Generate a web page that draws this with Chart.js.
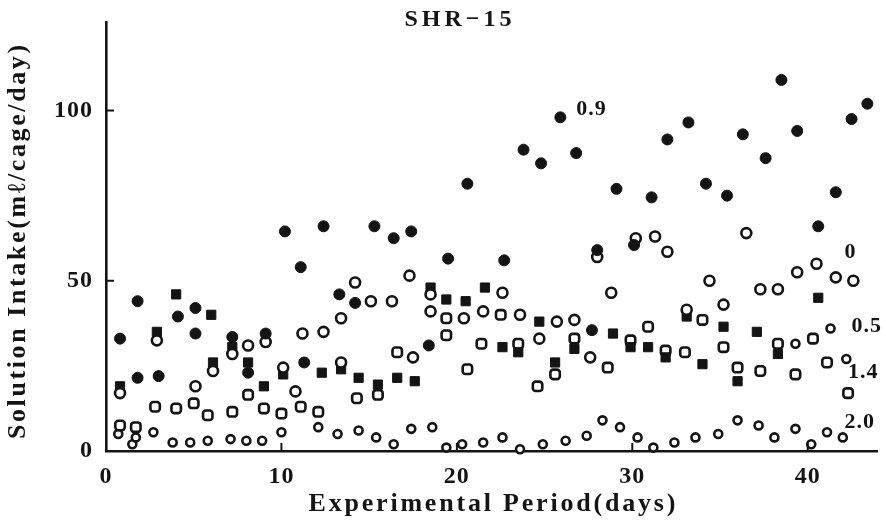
<!DOCTYPE html>
<html>
<head>
<meta charset="utf-8">
<script src="https://cdn.jsdelivr.net/npm/chart.js@4.4.1/dist/chart.umd.min.js"></script>
<style>
  html, body { margin: 0; padding: 0; background: #fff; }
</style>
</head>
<body>
<canvas id="intakeChart" width="886" height="525"></canvas>
<script>
// SHR-15 : solution intake per cage

const seriesNames = ['0.9', '0', '0.5', '1.4', '2.0'];
const dayTicks = [0, 10, 20, 30, 40];
const intakeTicks = [0, 50, 100];

// 0.9 (filled circles)
const days09 = [0.8, 1.8, 1.8, 3.0, 4.1, 5.1, 5.1, 7.2, 8.1, 9.1, 10.2, 11.1, 11.3, 12.4, 13.3, 14.2,
  15.3, 16.4, 17.4, 18.4, 19.5, 20.6, 22.7, 23.8, 24.8, 25.9, 26.8, 27.7, 28.0, 29.1, 30.1, 31.1,
  32.0, 33.2, 34.2, 35.4, 36.3, 37.6, 38.5, 39.4, 40.6, 41.6, 42.5, 43.4];
const intake09 = [33, 44, 21.5, 22, 39.5, 42, 34.5, 33.5, 23, 34.5, 64.5, 54, 26, 66, 46, 43.5,
  66, 62.5, 64.5, 31, 56.5, 78.5, 56, 88.5, 84.5, 98, 87.5, 35.5, 59, 77, 60.5, 74.5,
  91.5, 96.5, 78.5, 75, 93, 86, 109, 94, 66, 76, 97.5, 102];

// 0 (open circles)
const days0 = [0.8, 2.9, 5.1, 6.1, 7.2, 8.1, 9.1, 10.1, 10.8, 11.2, 12.4, 13.4, 13.4, 14.2, 15.1, 16.3,
  17.3, 17.5, 18.5, 18.5, 20.4, 21.5, 22.6, 23.6, 24.7, 25.7, 26.7, 27.6, 28.0, 28.8, 30.2, 31.3,
  32.0, 33.1, 34.4, 35.2, 36.5, 37.3, 38.3, 39.4, 40.5, 41.6, 42.6];
const intake0 = [17, 32.5, 19, 23.5, 28.5, 31, 32, 24.5, 17.5, 34.5, 35, 26, 39, 49.5, 44, 44,
  51.5, 27.5, 46, 41, 39, 41, 46.5, 40, 33, 38, 38.5, 27.5, 57, 46.5, 62.5, 63,
  58.5, 41.5, 50, 43, 64, 47.5, 47.5, 52.5, 55, 51, 50];

// 0.5 (filled squares)
const days05 = [0.8, 2.9, 4.0, 6.0, 6.1, 7.2, 8.1, 9.0, 10.1, 12.3, 13.4, 14.4, 15.5, 16.6, 17.6, 18.5,
  19.4, 20.5, 21.6, 22.6, 23.5, 24.7, 25.6, 26.7, 28.9, 29.9, 30.9, 31.9, 33.1, 34.0, 35.2, 36.0,
  37.1, 38.3, 40.6];
const intake05 = [19, 35, 46, 40, 26, 30.5, 26, 19, 22.5, 23, 24, 21.5, 19.5, 21.5, 20.5, 48,
  44.5, 44, 48, 30.5, 29, 38, 26, 30, 34.5, 30.5, 30.5, 27.5, 39.5, 25.5, 36.5, 20.5,
  35, 28.5, 45];

// 1.4 (open squares)
const days14 = [0.8, 1.7, 2.8, 4.0, 5.0, 5.8, 7.2, 8.1, 9.0, 10.0, 11.1, 12.1, 14.3, 15.5, 16.6, 19.4,
  19.4, 20.6, 21.4, 22.5, 23.5, 24.6, 25.6, 26.7, 28.6, 29.9, 30.9, 31.9, 33.0, 34.0, 35.2, 36.0,
  37.3, 38.3, 39.3, 40.3, 41.1, 42.3];
const intake14 = [7.5, 7, 13, 12.5, 14, 10.5, 11.5, 16.5, 12.5, 11, 13, 11.5, 15.5, 16.5, 29, 34,
  39, 24, 31.5, 40, 31.5, 19, 22.5, 33, 24.5, 32.5, 36.5, 29.5, 29, 38.5, 30.5, 24.5,
  23.5, 31.5, 22.5, 33, 26, 17];

// 2.0 (small open circles)
const days20 = [0.7, 1.5, 1.7, 2.7, 3.8, 4.8, 5.8, 7.1, 8.0, 8.9, 10.0, 12.1, 13.2, 14.4, 15.4, 16.4,
  17.4, 18.6, 19.4, 20.3, 21.5, 22.6, 23.6, 24.9, 26.2, 27.4, 28.3, 29.3, 30.3, 31.2, 32.4, 33.6,
  34.9, 36.0, 37.2, 38.1, 39.3, 40.2, 41.1, 42.0, 39.3, 41.3, 42.2];
const intake20 = [5, 2, 4, 5.5, 2.5, 2.5, 3, 3.5, 3, 3, 5.5, 7, 5, 6, 4, 2,
  6.5, 7, 1, 2, 2.5, 4, 0.5, 2, 3, 4.5, 9, 7, 4, 1, 2.5, 4,
  5, 9, 7.5, 4, 6.5, 2, 5.5, 4, 31.5, 36, 27];

// where the series names are printed, in axis units
const labelDays = [26.8, 42.1, 42.5, 42.3, 42.1];
const labelIntake = [100.4, 58.4, 36.7, 23, 8.5];

const ink = '#141414';
const serif = '"Liberation Serif", "DejaVu Serif", serif';

function pts(xs, ys) {
  return xs.map((d, i) => ({ x: d, y: ys[i] }));
}

// spaced-out serif lettering like the printed figure
function spaced(ctx, text, px, py, spacing, angle) {
  ctx.save();
  ctx.translate(px, py);
  ctx.rotate(angle || 0);
  ctx.letterSpacing = spacing + 'px';
  const w = ctx.measureText(text).width - spacing;
  ctx.textAlign = 'left';
  ctx.fillText(text, -w / 2, 0);
  ctx.restore();
}

const paperMarks = {
  id: 'paperMarks',
  beforeDraw(chart) {
    chart.ctx.letterSpacing = '1px';
  },
  afterDraw(chart) {
    const { ctx, scales: { x, y } } = chart;
    ctx.save();
    // short inward tick marks
    ctx.strokeStyle = ink;
    ctx.lineWidth = 2;
    dayTicks.slice(1).forEach(v => {
      const px = x.getPixelForValue(v);
      ctx.beginPath();
      ctx.moveTo(px, y.bottom);
      ctx.lineTo(px, y.bottom - 8);
      ctx.stroke();
    });
    intakeTicks.slice(1).forEach(v => {
      const py = y.getPixelForValue(v);
      ctx.beginPath();
      ctx.moveTo(x.left, py);
      ctx.lineTo(x.left + 8, py);
      ctx.stroke();
    });

    ctx.fillStyle = ink;
    ctx.textBaseline = 'middle';
    ctx.font = 'bold 24px ' + serif;
    spaced(ctx, 'SHR\u221215', 458, 20, 4);
    ctx.font = 'bold 26px ' + serif;
    spaced(ctx, 'Experimental Period(days)', (x.left + x.right) / 2, 504, 2.8);
    spaced(ctx, 'Solution Intake(m\u2113/cage/day)', 18, 242, 2.6, -Math.PI / 2);

    ctx.font = 'bold 22px ' + serif;
    ctx.letterSpacing = '1px';
    ctx.textAlign = 'left';
    seriesNames.forEach((name, i) => {
      ctx.fillText(name, x.getPixelForValue(labelDays[i]), y.getPixelForValue(labelIntake[i]));
    });
    ctx.restore();
  }
};

const tickFont = { family: serif, size: 24, weight: 'bold' };

new Chart(document.getElementById('intakeChart'), {
  type: 'scatter',
  data: {
    datasets: [
      { label: seriesNames[0], data: pts(days09, intake09), pointStyle: 'circle', radius: 5.5,
        backgroundColor: ink, borderColor: ink, borderWidth: 1 },
      { label: seriesNames[1], data: pts(days0, intake0), pointStyle: 'circle', radius: 5,
        backgroundColor: '#fff', borderColor: ink, borderWidth: 2.6 },
      { label: seriesNames[2], data: pts(days05, intake05), pointStyle: 'rect', radius: 6.5,
        backgroundColor: ink, borderColor: ink, borderWidth: 1 },
      { label: seriesNames[3], data: pts(days14, intake14), pointStyle: 'rectRounded', radius: 5.5,
        backgroundColor: '#fff', borderColor: ink, borderWidth: 2.6 },
      { label: seriesNames[4], data: pts(days20, intake20), pointStyle: 'circle', radius: 4,
        backgroundColor: '#fff', borderColor: ink, borderWidth: 2.6 }
    ].map(ds => Object.assign(ds, { clip: false, pointHoverRadius: ds.radius }))
  },
  options: {
    responsive: false,
    animation: false,
    events: [],
    layout: { padding: { top: 22, right: 8, left: 0, bottom: 0 } },
    plugins: { legend: { display: false }, tooltip: { enabled: false }, title: { display: false } },
    scales: {
      x: {
        type: 'linear',
        min: 0,
        max: 44,
        afterFit: s => { s.height = 74; s.paddingLeft = 0; s.paddingRight = 0; },
        afterBuildTicks: s => { s.ticks = dayTicks.map(v => ({ value: v })); },
        grid: { display: false, drawTicks: false },
        border: { display: true, color: ink, width: 2.6 },
        ticks: { color: ink, font: tickFont, padding: 11, maxRotation: 0 }
      },
      y: {
        type: 'linear',
        min: 0,
        max: 126,
        afterFit: s => { s.width = 106; s.paddingTop = 0; s.paddingBottom = 0; },
        afterBuildTicks: s => { s.ticks = intakeTicks.map(v => ({ value: v })); },
        grid: { display: false, drawTicks: false },
        border: { display: true, color: ink, width: 2.6 },
        ticks: { color: ink, font: tickFont, padding: 13 }
      }
    }
  },
  plugins: [paperMarks]
});
</script>
</body>
</html>
